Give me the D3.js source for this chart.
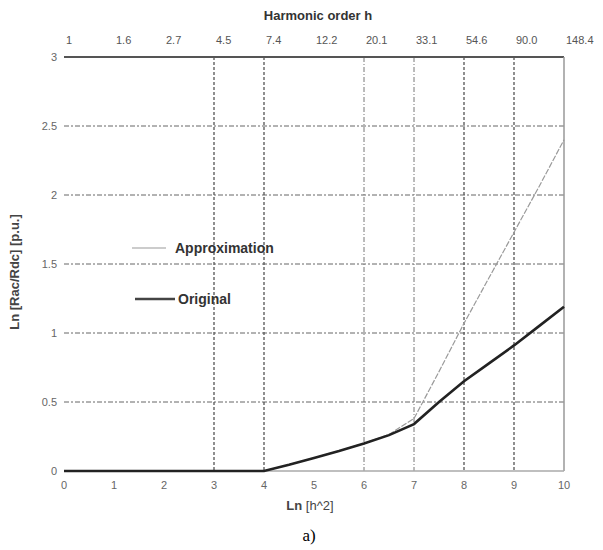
<!DOCTYPE html>
<html><head><meta charset="utf-8">
<script src="https://cdn.jsdelivr.net/npm/d3@7"></script>
<style>body{margin:0;background:#fff}svg{display:block}</style>
</head><body>
<svg id="c" width="603" height="550"></svg>
<script>
const xTicks = [0,1,2,3,4,5,6,7,8,9,10];
const topTickLabels = ["1","1.6","2.7","4.5","7.4","12.2","20.1","33.1","54.6","90.0","148.4"];
const yTicks = [0,0.5,1,1.5,2,2.5,3];
const vGridDark = [3,4,8,9];
const vGridLight = [6,7];
const hGrid = [0.5,1,1.5,2,2.5];
const origX = [0,1,2,3,4,4.5,5,5.5,6,6.5,7,7.5,8,8.5,9,9.5,10];
const origY = [0,0,0,0,0,0.045,0.095,0.145,0.20,0.26,0.34,0.50,0.65,0.78,0.91,1.05,1.19];
const apprX = [0,1,2,3,4,4.5,5,5.5,6,6.5,7,7.5,8,8.5,9,9.5,10];
const apprY = [0,0,0,0,0,0.045,0.095,0.145,0.20,0.265,0.38,0.72,1.07,1.40,1.73,2.06,2.40];
const seriesNames = ["Approximation","Original"];

const svg = d3.select("#c");
const x = d3.scaleLinear().domain([0,10]).range([64,564]);
const y = d3.scaleLinear().domain([0,3]).range([471,57]);
const font = "'Liberation Sans', Arial, sans-serif";

// grid
svg.selectAll(".hg").data(hGrid).join("line")
  .attr("x1",x(0)).attr("x2",x(10)).attr("y1",d=>y(d)).attr("y2",d=>y(d))
  .attr("stroke","#666").attr("stroke-width",1).attr("stroke-dasharray","5,2,2,2");
svg.selectAll(".vgd").data(vGridDark).join("line")
  .attr("x1",d=>x(d)).attr("x2",d=>x(d)).attr("y1",y(3)).attr("y2",y(0))
  .attr("stroke","#555").attr("stroke-width",1.3).attr("stroke-dasharray","3,2");
svg.selectAll(".vgl").data(vGridLight).join("line")
  .attr("x1",d=>x(d)).attr("x2",d=>x(d)).attr("y1",y(3)).attr("y2",y(0))
  .attr("stroke","#777").attr("stroke-width",1).attr("stroke-dasharray","5,2,1,2");

// frame
svg.append("line").attr("x1",x(0)).attr("x2",x(10)).attr("y1",y(3)).attr("y2",y(3))
  .attr("stroke","#555").attr("stroke-width",2.2);
svg.append("line").attr("x1",x(10)).attr("x2",x(10)).attr("y1",y(3)).attr("y2",y(0))
  .attr("stroke","#999").attr("stroke-width",1.5);
svg.append("line").attr("x1",x(0)).attr("x2",x(10)).attr("y1",y(0)).attr("y2",y(0))
  .attr("stroke","#aaa").attr("stroke-width",1.5);

// axes labels
svg.selectAll(".xt").data(xTicks).join("text")
  .attr("x",d=>x(d)).attr("y",489).attr("text-anchor","middle")
  .attr("font-family",font).attr("font-size",11).attr("fill","#666").text(d=>d);
svg.selectAll(".tt").data(xTicks).join("text")
  .attr("x",d=>x(d)+2).attr("y",44).attr("text-anchor","start")
  .attr("font-family",font).attr("font-size",11).attr("fill","#555").text((d,i)=>topTickLabels[i]);
svg.selectAll(".yt").data(yTicks).join("text")
  .attr("x",57).attr("y",d=>y(d)+4).attr("text-anchor","end")
  .attr("font-family",font).attr("font-size",11).attr("fill","#666").text(d=>d);

svg.append("text").attr("x",318).attr("y",20).attr("text-anchor","middle")
  .attr("font-family",font).attr("font-size",13).attr("font-weight","bold").attr("fill","#333")
  .text("Harmonic order h");
svg.append("text").attr("x",310).attr("y",510).attr("text-anchor","middle")
  .attr("font-family",font).attr("font-size",13).attr("fill","#444")
  .html('<tspan font-weight="bold">Ln</tspan> [h^2]');
svg.append("text").attr("transform","translate(19,272) rotate(-90)").attr("text-anchor","middle")
  .attr("font-family",font).attr("font-size",13).attr("font-weight","bold").attr("fill","#444")
  .text("Ln [Rac/Rdc] [p.u.]");
svg.append("text").attr("x",309).attr("y",541).attr("text-anchor","middle")
  .attr("font-family","'Liberation Serif','Times New Roman',serif").attr("font-size",17).attr("fill","#000")
  .text("a)");

// lines
const line = d3.line().x(d=>x(d[0])).y(d=>y(d[1]));
svg.append("path").datum(apprX.map((v,i)=>[v,apprY[i]])).attr("d",line)
  .attr("fill","none").attr("stroke","#9a9a9a").attr("stroke-width",1.2).attr("stroke-dasharray","6,1.5");
svg.append("path").datum(origX.map((v,i)=>[v,origY[i]])).attr("d",line)
  .attr("fill","none").attr("stroke","#222").attr("stroke-width",2.6);

// legend
svg.append("line").attr("x1",132).attr("x2",166).attr("y1",248).attr("y2",248)
  .attr("stroke","#9a9a9a").attr("stroke-width",1.2);
svg.append("text").attr("x",175).attr("y",253).attr("font-family",font).attr("font-size",14)
  .attr("font-weight","bold").attr("fill","#333").text(seriesNames[0]);
svg.append("line").attr("x1",135).attr("x2",175).attr("y1",299).attr("y2",299)
  .attr("stroke","#444").attr("stroke-width",2.6);
svg.append("text").attr("x",178).attr("y",304).attr("font-family",font).attr("font-size",14)
  .attr("font-weight","bold").attr("fill","#333").text(seriesNames[1]);
</script>
</body></html>
